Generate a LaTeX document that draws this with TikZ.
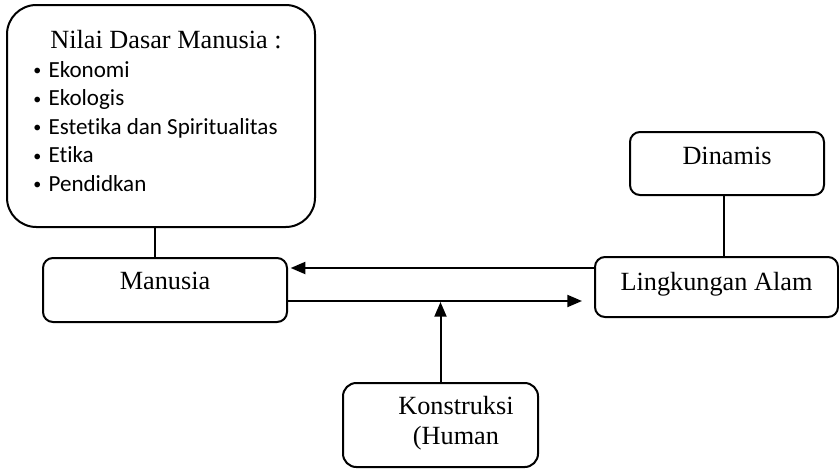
\documentclass[tikz,border=0pt]{standalone}
\usepackage{fontspec}
\setmainfont{Liberation Serif}
\newfontfamily\daftarfont[Ligatures = NoCommon]{Carlito}
\usetikzlibrary{calc, arrows.meta}

\newcommand{\titik}{\raisebox{1pt}{\fontsize{12}{12}\selectfont\textbullet}\hspace{5.3pt}}

\tikzset{
	kotak/.style = {draw, line width = 1.5pt, rounded corners = 7.5pt, align = center, inner sep = 0pt, font = \fontsize{19.7}{22.5}\selectfont},
}

\begin{document}
\begin{tikzpicture}[x = 0.75pt, y = -0.75pt, line width = 1.5pt]
			\def\px{0.75pt};
			\useasboundingbox (0,0) rectangle (839,468);

			\node [kotak, rounded corners = 22pt, minimum width = 308*\px, minimum height = 222*\px] (nilai) at (161,116) {};
			\node [anchor = base, inner sep = 0pt, font = \fontsize{19.7}{22.5}\selectfont] (judul) at (166,48) {Nilai Dasar Manusia :};
			\node [anchor = north west, inner sep = 0pt, align = left, font = \daftarfont\fontsize{17.3}{21.4}\selectfont] (daftar) at (32.5,60)
				{\titik Ekonomi\\ \titik Ekologis\\ \titik Estetika dan Spiritualitas\\ \titik Etika\\ \titik Pendidkan};

			\node [kotak, minimum width = 244*\px, minimum height = 64*\px, text height = 11pt, text depth = 12.5pt] (manusia) at (165,290) {Manusia};
			\node [kotak, minimum width = 243*\px, minimum height = 60*\px, text height = 11pt, text depth = 6.5pt] (lingkungan) at (716.5,287) {Lingkungan Alam};
			\node [kotak, minimum width = 194*\px, minimum height = 63*\px, text height = 11pt, text depth = 10.25pt] (dinamis) at (727,163.5) {Dinamis};
			\node [kotak, rounded corners = 10pt, minimum width = 195*\px, minimum height = 84*\px] (konstruksi) at (440.5,425) {};
			\node [inner sep = 0pt, align = center, font = \fontsize{19.7}{22.5}\selectfont] (konstruksiteks) at ([xshift = 11.6pt, yshift = 1.1pt]konstruksi.center) {Konstruksi\\(Human};

			\coordinate (ujung) at ([yshift = 60pt]konstruksi.north);

			\draw
				([xshift = -4.5pt]nilai.south) -- ([xshift = -4.5pt]nilai.south |- manusia.north)
				([xshift = -2.25pt]dinamis.south) -- ([xshift = -2.25pt]dinamis.south |- lingkungan.north);

			\begin{scope}[-{Triangle[length = 11pt, width = 9pt]}]
				\draw [shorten > = 2pt] ([yshift = 14.25pt]lingkungan.west) -- ([yshift = 14.25pt]lingkungan.west -| manusia.east);
				\draw [shorten > = 9pt] ([yshift = -8.25pt]manusia.east) -- ([yshift = -8.25pt]manusia.east -| lingkungan.west);
				\draw (konstruksi.north) -- (ujung);
			\end{scope}
		\end{tikzpicture}
\end{document}
